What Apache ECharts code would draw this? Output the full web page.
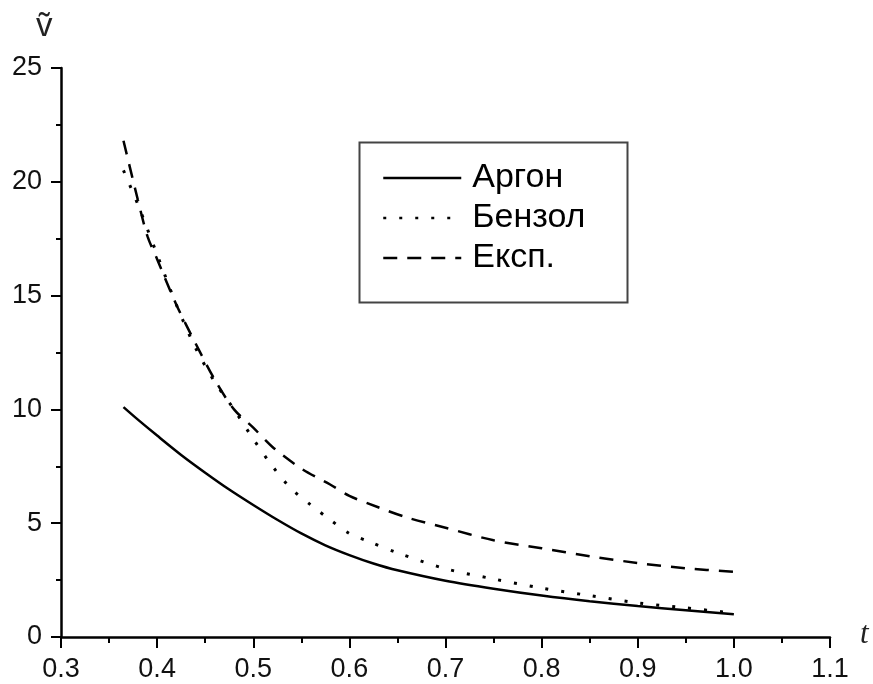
<!DOCTYPE html>
<html>
<head>
<meta charset="utf-8">
<script src="https://cdn.jsdelivr.net/npm/echarts@6/dist/echarts.min.js"></script>
<style>html,body{margin:0;padding:0;background:#fff}#c{width:873px;height:684px}</style>
</head>
<body>
<div id="c"></div>
<script>
var seriesNames = ['Аргон', 'Бензол', 'Експ.'];
var argonT = [0.365, 0.38, 0.40, 0.425, 0.45, 0.475, 0.50, 0.525, 0.55, 0.575, 0.60, 0.625, 0.65, 0.70, 0.75, 0.80, 0.85, 0.90, 0.95, 1.00];
var argonV = [10.1, 9.55, 8.85, 8.0, 7.22, 6.48, 5.8, 5.15, 4.55, 4.03, 3.6, 3.23, 2.93, 2.47, 2.12, 1.82, 1.57, 1.36, 1.18, 1.0];
var benzolT = [0.365, 0.38, 0.40, 0.42, 0.44, 0.46, 0.48, 0.50, 0.52, 0.54, 0.56, 0.58, 0.60, 0.62, 0.65, 0.70, 0.75, 0.80, 0.85, 0.90, 0.95, 1.00];
var benzolV = [20.5, 19.0, 16.8, 14.6, 12.7, 11.2, 10.0, 8.7, 7.5, 6.5, 5.8, 5.15, 4.55, 4.2, 3.7, 3.0, 2.55, 2.15, 1.82, 1.5, 1.28, 1.05];
var expT = [0.365, 0.38, 0.39, 0.40, 0.42, 0.44, 0.46, 0.48, 0.50, 0.52, 0.55, 0.58, 0.60, 0.63, 0.66, 0.70, 0.75, 0.80, 0.85, 0.90, 0.95, 1.00];
var expV = [21.8, 19.2, 17.6, 16.6, 14.6, 12.9, 11.3, 10.0, 9.2, 8.35, 7.4, 6.7, 6.2, 5.7, 5.25, 4.8, 4.25, 3.9, 3.55, 3.25, 3.02, 2.86];

function pairs(t, v) { return t.map(function (x, i) { return [x, v[i]]; }); }

var chart = echarts.init(document.getElementById('c'));
var font = 'Liberation Sans, Arial, sans-serif';
chart.setOption({
  animation: false,
  backgroundColor: '#fff',
  grid: { left: 61, right: 43, top: 68, bottom: 47, containLabel: false },
  xAxis: {
    type: 'value', min: 0.3, max: 1.1, interval: 0.1,
    axisLine: { show: true, onZero: false, lineStyle: { color: '#000', width: 2.5 } },
    axisTick: { show: true, inside: false, length: 11, lineStyle: { color: '#000', width: 2 } },
    minorTick: { show: true, splitNumber: 2, length: 6, lineStyle: { color: '#000', width: 2 } },
    splitLine: { show: false },
    axisLabel: { color: '#111', fontSize: 27, fontFamily: font, margin: 19,
      formatter: function (v) { return v.toFixed(1); } }
  },
  yAxis: {
    type: 'value', min: 0, max: 25, interval: 5,
    axisLine: { show: true, onZero: false, lineStyle: { color: '#000', width: 2.5 } },
    axisTick: { show: true, inside: false, length: 10, lineStyle: { color: '#000', width: 2 } },
    minorTick: { show: true, splitNumber: 2, length: 5, lineStyle: { color: '#000', width: 2 } },
    splitLine: { show: false },
    axisLabel: { color: '#111', fontSize: 27, fontFamily: font, margin: 19 }
  },
  legend: {
    show: true, orient: 'vertical', left: 377, top: 156,
    itemWidth: 78, itemHeight: 14, itemGap: 6,
    itemStyle: { opacity: 0 },
    lineStyle: { width: 2.5 },
    textStyle: { color: '#000', fontSize: 34, fontFamily: font, padding: [0, 0, 4, 6] },
    data: seriesNames
  },
  graphic: [
    { type: 'rect', left: 357, top: 140, shape: { width: 268, height: 160 },
      style: { fill: 'none', stroke: '#444', lineWidth: 2 }, z: 0 },
    { type: 'text', left: 36, top: 10,
      style: { text: '\u1E7D', fontSize: 33, fontFamily: font, fill: '#222' } },
    { type: 'text', left: 860, top: 619,
      style: { text: 't', fontSize: 31, fontStyle: 'italic', fontFamily: 'Liberation Serif, serif', fill: '#222' } }
  ],
  series: [
    { name: seriesNames[0], type: 'line', data: pairs(argonT, argonV), smooth: 0.3, symbol: 'none',
      lineStyle: { color: '#000', width: 2.5, type: 'solid' }, itemStyle: { color: '#000' } },
    { name: seriesNames[1], type: 'line', data: pairs(benzolT, benzolV), smooth: 0.3, symbol: 'none',
      lineStyle: { color: '#000', width: 3, type: [3, 13] }, itemStyle: { color: '#000' } },
    { name: seriesNames[2], type: 'line', data: pairs(expT, expV), smooth: 0.3, symbol: 'none',
      lineStyle: { color: '#000', width: 2.5, type: [14, 10] }, itemStyle: { color: '#000' } }
  ]
});
</script>
</body>
</html>
